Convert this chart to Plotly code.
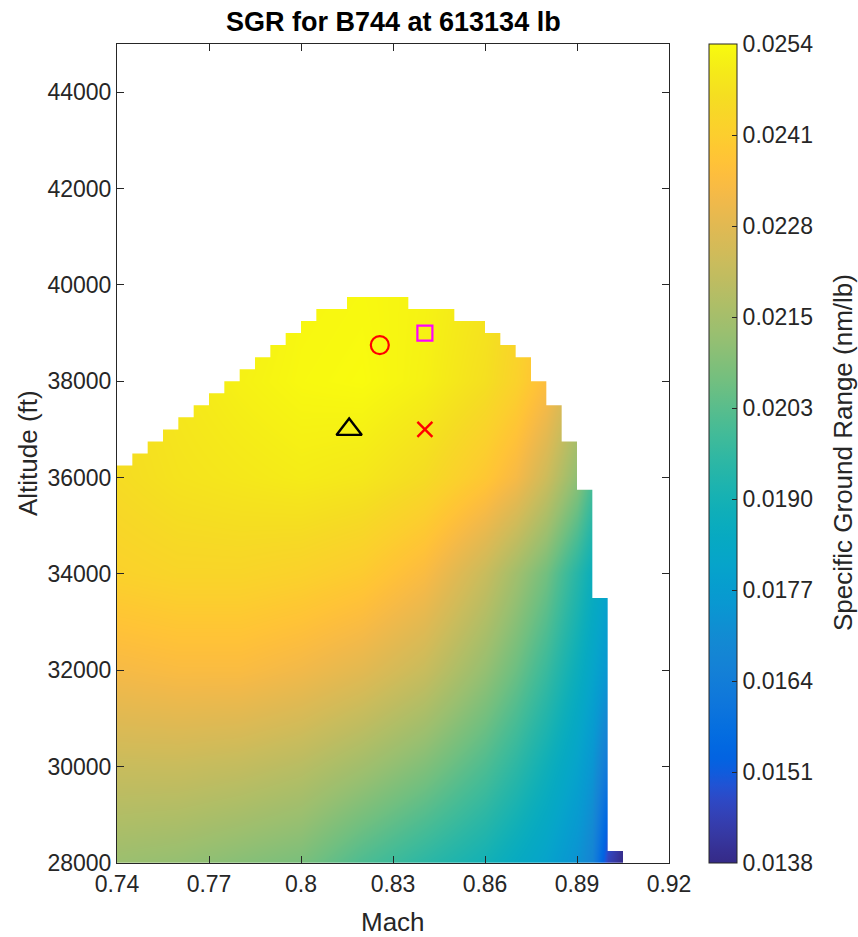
import numpy as np
import plotly.graph_objects as go

# ---------------- data ----------------
mach_grid = [0.74, 0.76, 0.78, 0.80, 0.82, 0.84, 0.86, 0.87, 0.88, 0.89, 0.895, 0.90, 0.905]
alt_grid = [28000, 30000, 32000, 34000, 36000, 38000, 40000]
sgr_28000 = [0.02134, 0.02122, 0.02099, 0.02076, 0.02006, 0.01948, 0.01890, 0.01844, 0.01798, 0.01728, 0.01670, 0.01450, 0.01380]
sgr_30000 = [0.02227, 0.02227, 0.02215, 0.02192, 0.02146, 0.02088, 0.02006, 0.01948, 0.01879, 0.01798, 0.01740, 0.01612, 0.01438]
sgr_32000 = [0.02331, 0.02343, 0.02343, 0.02320, 0.02285, 0.02227, 0.02122, 0.02053, 0.01972, 0.01867, 0.01809, 0.01740, 0.01496]
sgr_34000 = [0.02424, 0.02436, 0.02436, 0.02424, 0.02401, 0.02343, 0.02227, 0.02146, 0.02064, 0.01937, 0.01867, 0.01809, 0.01554]
sgr_36000 = [0.02459, 0.02482, 0.02494, 0.02505, 0.02494, 0.02459, 0.02389, 0.02331, 0.02238, 0.02111, 0.02006, 0.01867, 0.01612]
sgr_38000 = [0.02470, 0.02494, 0.02517, 0.02534, 0.02540, 0.02517, 0.02470, 0.02424, 0.02354, 0.02227, 0.02099, 0.01925, 0.01670]
sgr_40000 = [0.02447, 0.02482, 0.02505, 0.02528, 0.02534, 0.02523, 0.02488, 0.02447, 0.02389, 0.02273, 0.02146, 0.01960, 0.01728]

# flight envelope: Mach column left edges and max altitude per column
env_mach = [0.740, 0.745, 0.750, 0.755, 0.760, 0.765, 0.770, 0.775, 0.780, 0.785,
            0.790, 0.795, 0.800, 0.805, 0.810, 0.815, 0.820, 0.825, 0.830, 0.835,
            0.840, 0.845, 0.850, 0.855, 0.860, 0.865, 0.870, 0.875, 0.880, 0.885,
            0.890, 0.895, 0.900, 0.905]
env_alt = [36250, 36500, 36750, 37000, 37250, 37500, 37750, 38000, 38250, 38500,
           38750, 39000, 39250, 39500, 39500, 39750, 39750, 39750, 39750, 39500,
           39500, 39500, 39250, 39250, 39000, 38750, 38500, 38000, 37500, 36750,
           35750, 33500, 28250]

# markers
opt_mach, opt_alt = [0.8257], [38750]      # red circle
sq_mach, sq_alt = [0.8404], [39000]        # magenta square
tri_mach, tri_alt = [0.8157], [37000]      # black triangle
x_mach, x_alt = [0.8404], [37000]          # red cross

x_ticks = [0.74, 0.77, 0.80, 0.83, 0.86, 0.89, 0.92]
x_ticktext = ["0.74", "0.77", "0.8", "0.83", "0.86", "0.89", "0.92"]
y_ticks = [28000, 30000, 32000, 34000, 36000, 38000, 40000, 42000, 44000]
cb_min, cb_max = 0.0138, 0.0254
cb_ticktext = ["0.0138", "0.0151", "0.0164", "0.0177", "0.0190", "0.0203", "0.0215", "0.0228", "0.0241", "0.0254"]

# ---------------- style ----------------
parula = [
    [0.2081, 0.1663, 0.5292], [0.2116, 0.1898, 0.5777], [0.2123, 0.2138, 0.6270], [0.2081, 0.2386, 0.6771],
    [0.1959, 0.2645, 0.7279], [0.1707, 0.2919, 0.7792], [0.1253, 0.3242, 0.8303], [0.0591, 0.3598, 0.8683],
    [0.0117, 0.3875, 0.8820], [0.0060, 0.4086, 0.8828], [0.0165, 0.4266, 0.8786], [0.0329, 0.4430, 0.8720],
    [0.0498, 0.4586, 0.8641], [0.0629, 0.4737, 0.8554], [0.0723, 0.4887, 0.8467], [0.0779, 0.5040, 0.8384],
    [0.0793, 0.5200, 0.8312], [0.0749, 0.5375, 0.8263], [0.0641, 0.5570, 0.8240], [0.0488, 0.5772, 0.8228],
    [0.0343, 0.5966, 0.8199], [0.0265, 0.6137, 0.8135], [0.0239, 0.6287, 0.8038], [0.0231, 0.6418, 0.7913],
    [0.0228, 0.6535, 0.7768], [0.0267, 0.6642, 0.7607], [0.0384, 0.6743, 0.7436], [0.0590, 0.6838, 0.7254],
    [0.0843, 0.6928, 0.7062], [0.1133, 0.7015, 0.6859], [0.1453, 0.7098, 0.6646], [0.1801, 0.7177, 0.6424],
    [0.2178, 0.7250, 0.6193], [0.2586, 0.7317, 0.5954], [0.3022, 0.7376, 0.5712], [0.3482, 0.7424, 0.5473],
    [0.3953, 0.7459, 0.5244], [0.4420, 0.7481, 0.5033], [0.4871, 0.7491, 0.4840], [0.5300, 0.7491, 0.4661],
    [0.5709, 0.7485, 0.4494], [0.6099, 0.7473, 0.4337], [0.6473, 0.7456, 0.4188], [0.6834, 0.7435, 0.4044],
    [0.7184, 0.7411, 0.3905], [0.7525, 0.7384, 0.3768], [0.7858, 0.7356, 0.3633], [0.8185, 0.7327, 0.3498],
    [0.8507, 0.7299, 0.3360], [0.8824, 0.7274, 0.3217], [0.9139, 0.7258, 0.3063], [0.9450, 0.7261, 0.2886],
    [0.9739, 0.7314, 0.2666], [0.9938, 0.7455, 0.2403], [0.9990, 0.7653, 0.2164], [0.9955, 0.7861, 0.1967],
    [0.9880, 0.8066, 0.1794], [0.9789, 0.8271, 0.1633], [0.9697, 0.8481, 0.1475], [0.9626, 0.8705, 0.1309],
    [0.9589, 0.8949, 0.1132], [0.9598, 0.9218, 0.0948], [0.9661, 0.9514, 0.0755], [0.9763, 0.9831, 0.0538],
]
colorscale = [[i / (len(parula) - 1), "rgb(%d,%d,%d)" % tuple(round(c * 255) for c in rgb)]
              for i, rgb in enumerate(parula)]

FONT = "Liberation Sans, Arial, Helvetica, sans-serif"
TXT = "#262626"
AX = "#262626"
TICK_SIZE = 23
LABEL_SIZE = 26

# plot-area pixel geometry
W, H = 858, 937
L, R, T, B = 117, 669, 44, 863

z = [sgr_28000, sgr_30000, sgr_32000, sgr_34000, sgr_36000, sgr_38000, sgr_40000]

fig = go.Figure()
fig.add_trace(go.Heatmap(
    x=mach_grid, y=alt_grid, z=z, zsmooth="best",
    zmin=cb_min, zmax=cb_max, colorscale=colorscale,
    colorbar=dict(
        x=(709 - L) / (R - L), xanchor="left", xref="paper", xpad=0,
        y=0.5, yanchor="middle", len=1.0, lenmode="fraction", ypad=0,
        thickness=28, outlinewidth=1, outlinecolor=AX,
        tickvals=list(np.linspace(cb_min, cb_max, 10)), ticktext=cb_ticktext,
        ticks="inside", ticklen=5, tickcolor=AX,
        tickfont=dict(family=FONT, size=TICK_SIZE, color=TXT),
    ),
    hoverinfo="skip",
))

# white mask above the envelope (built from the envelope arrays)
x0, x1 = 0.74, 0.92
y0, y1 = 28000, 45000
step_x = np.repeat(env_mach, 2)[1:-1]
step_y = np.repeat(env_alt, 2)
mask_x = np.concatenate([[x0 - 0.01, x0 - 0.01], step_x, [env_mach[-1], x1 + 0.01, x1 + 0.01]])
mask_y = np.concatenate([[y1 + 1000, env_alt[0]], step_y, [y0 - 1000, y0 - 1000, y1 + 1000]])
fig.add_trace(go.Scatter(
    x=mask_x, y=mask_y, mode="lines", fill="toself",
    fillcolor="white", line=dict(width=0, color="white"), hoverinfo="skip", showlegend=False,
))

fig.add_trace(go.Scatter(x=opt_mach, y=opt_alt, mode="markers", showlegend=False,
                         marker=dict(symbol="circle-open", size=18, color="#ff0000", line=dict(width=2.2, color="#ff0000"))))
fig.add_trace(go.Scatter(x=sq_mach, y=sq_alt, mode="markers", showlegend=False,
                         marker=dict(symbol="square-open", size=15, color="#ff00ff", line=dict(width=2.2, color="#ff00ff"))))
fig.add_trace(go.Scatter(x=tri_mach, y=tri_alt, mode="markers", showlegend=False,
                         marker=dict(symbol="triangle-up-open", size=22, color="#000000", line=dict(width=2.4, color="#000000"))))
fig.add_trace(go.Scatter(x=x_mach, y=x_alt, mode="markers", showlegend=False,
                         marker=dict(symbol="x-thin-open", size=15, color="#ff0000", line=dict(width=2.4, color="#ff0000"))))

axis_common = dict(
    showgrid=False, zeroline=False, showline=True, linecolor=AX, linewidth=1,
    mirror="allticks", ticks="inside", ticklen=7, tickcolor=AX, tickwidth=1,
    tickfont=dict(family=FONT, size=TICK_SIZE, color=TXT),
)

fig.update_layout(
    width=W, height=H,
    margin=dict(l=L, r=W - R, t=T, b=H - B, pad=0),
    paper_bgcolor="white", plot_bgcolor="white",
    xaxis=dict(range=[x0, x1], tickvals=x_ticks, ticktext=x_ticktext, **axis_common),
    yaxis=dict(range=[y0, y1], tickvals=y_ticks, ticktext=[str(v) for v in y_ticks], **axis_common),
    showlegend=False,
    annotations=[
        dict(text="<b>SGR for B744 at 613134 lb</b>", xref="paper", yref="paper",
             x=0.5, y=(B - 22) / (B - T), xanchor="center", yanchor="middle", showarrow=False,
             font=dict(family=FONT, size=27, color="#000000")),
        dict(text="Mach", xref="paper", yref="paper",
             x=(393 - L) / (R - L), y=(B - 922) / (B - T), xanchor="center", yanchor="middle",
             showarrow=False, font=dict(family=FONT, size=LABEL_SIZE, color=TXT)),
        dict(text="Altitude (ft)", xref="paper", yref="paper", textangle=-90,
             x=(28 - L) / (R - L), y=(B - 453) / (B - T), xanchor="center", yanchor="middle",
             showarrow=False, font=dict(family=FONT, size=LABEL_SIZE, color=TXT)),
        dict(text="Specific Ground Range (nm/lb)", xref="paper", yref="paper", textangle=-90,
             x=(843 - L) / (R - L), y=(B - 453) / (B - T), xanchor="center", yanchor="middle",
             showarrow=False, font=dict(family=FONT, size=LABEL_SIZE, color=TXT)),
    ],
)

fig.write_html("out.html")
